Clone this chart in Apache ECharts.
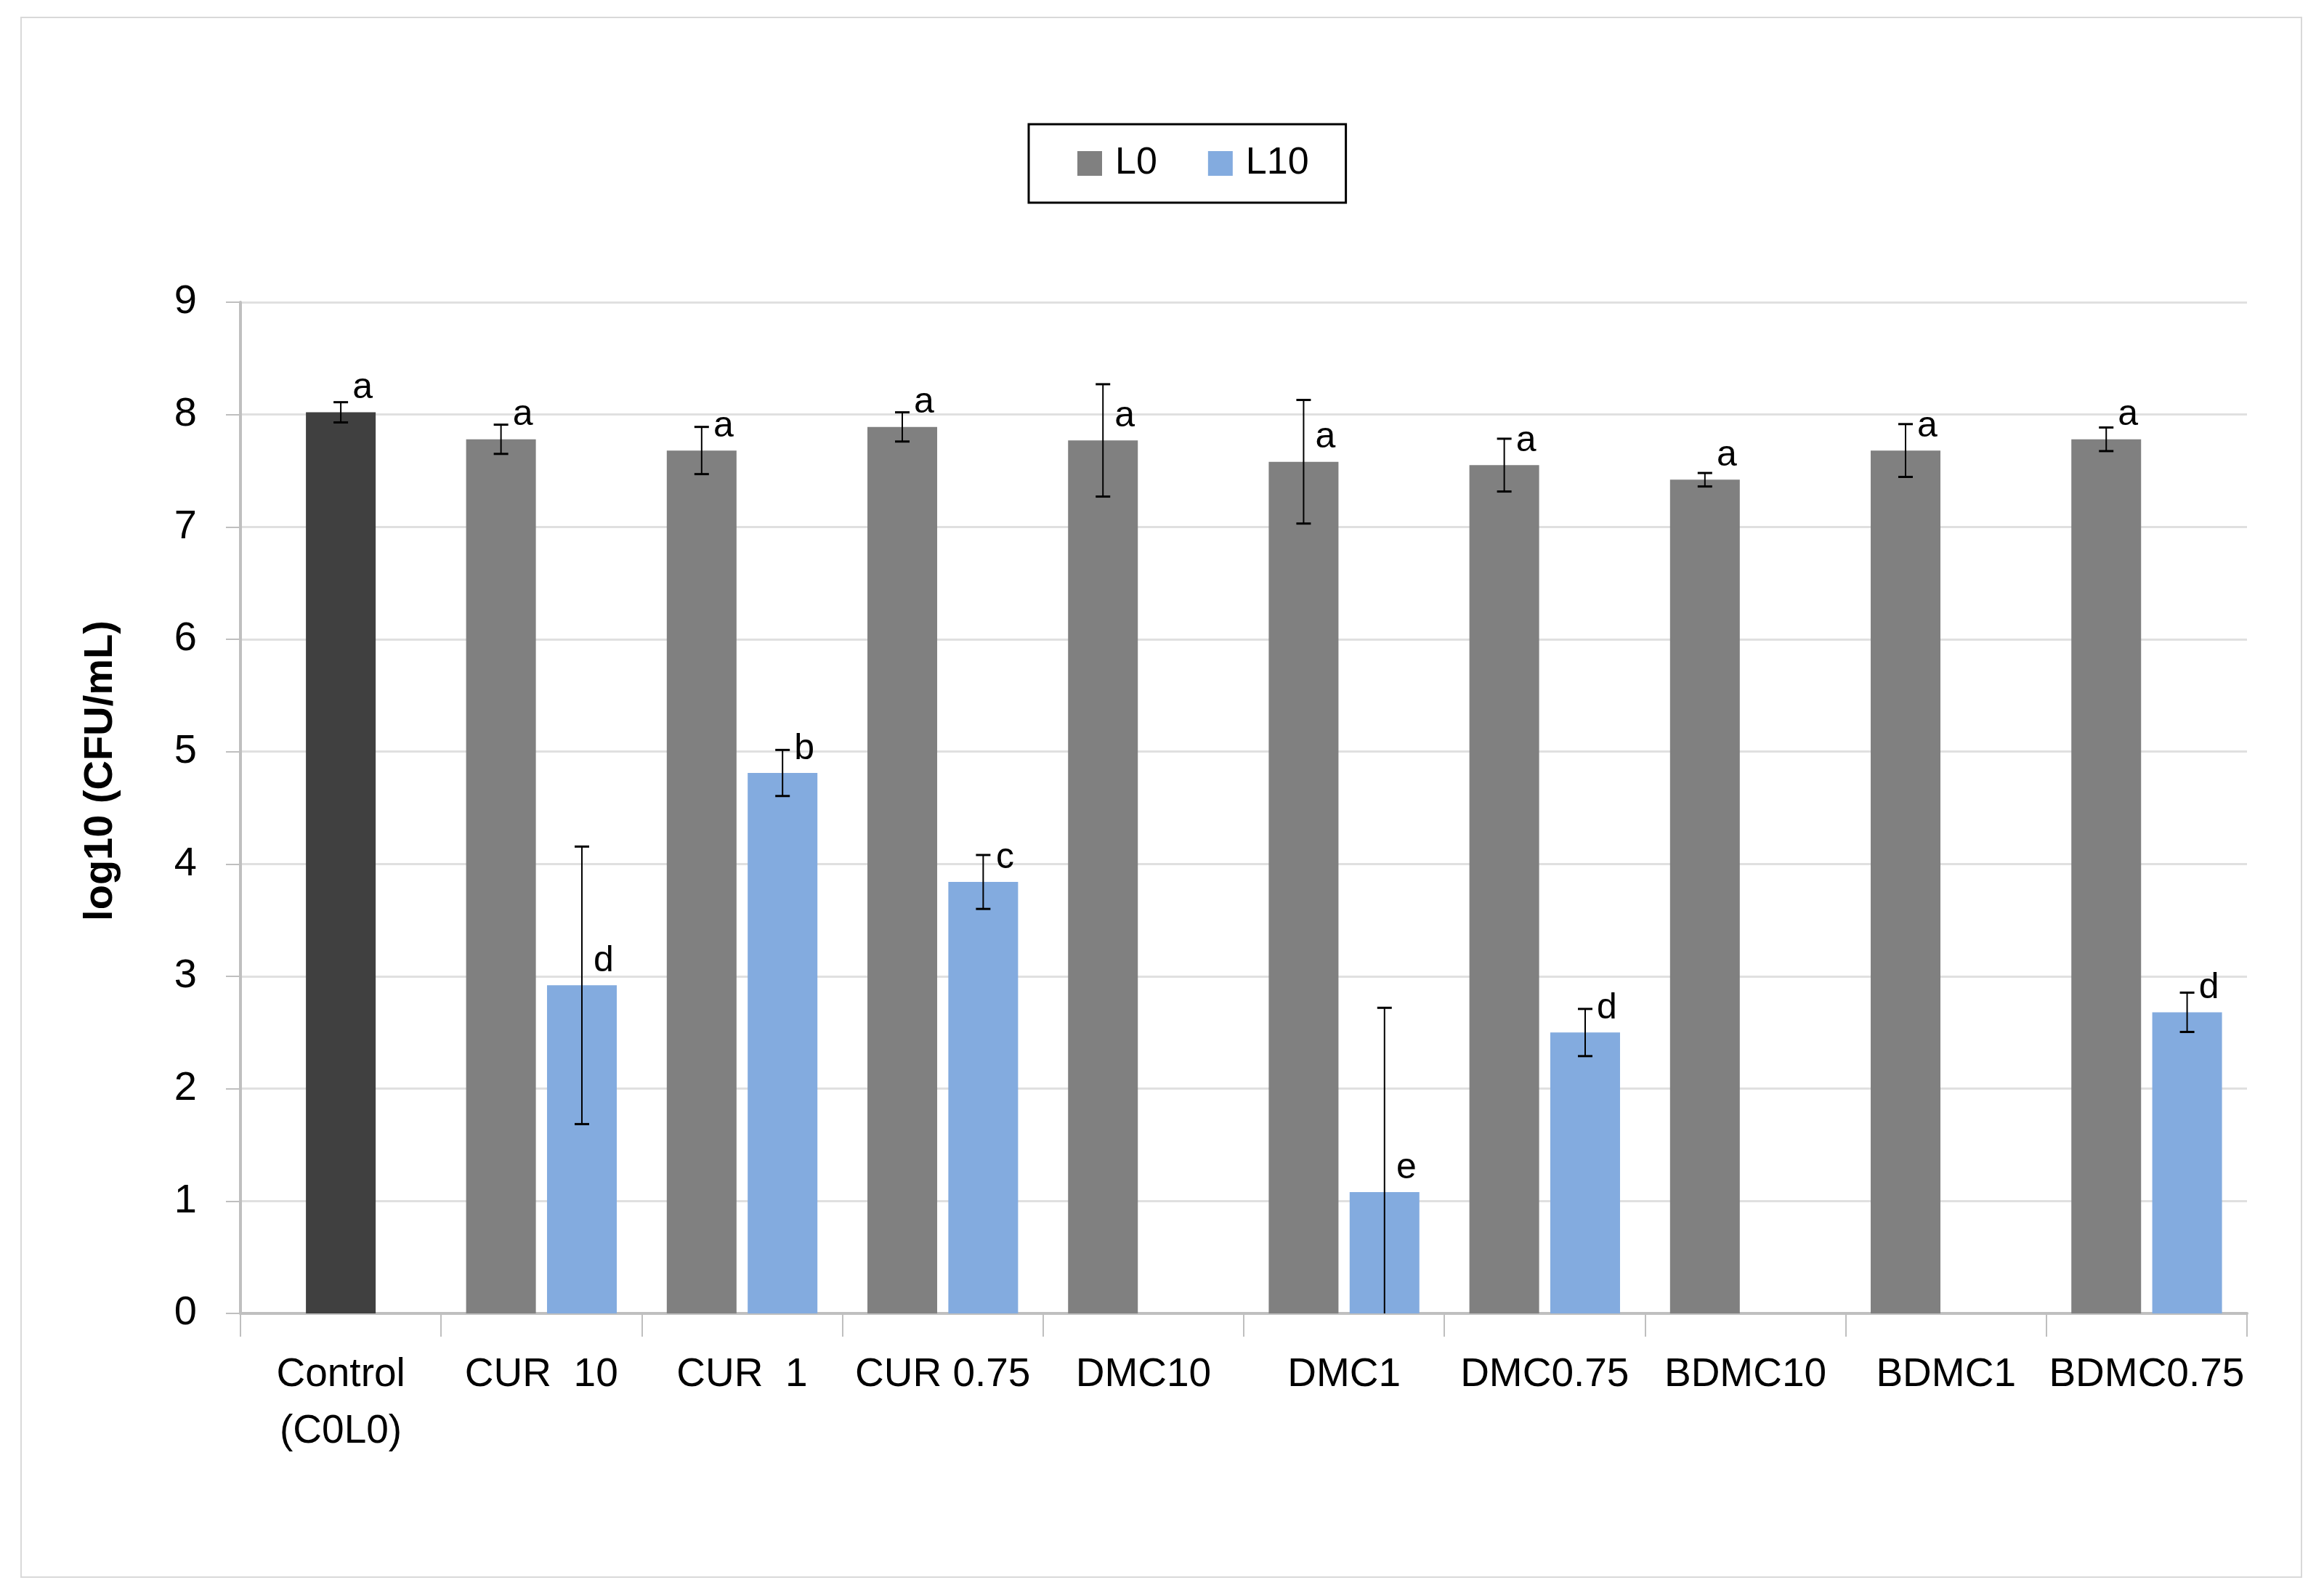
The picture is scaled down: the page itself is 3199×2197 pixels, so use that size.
<!DOCTYPE html>
<html>
<head>
<meta charset="utf-8">
<script src="https://cdn.jsdelivr.net/npm/echarts@6/dist/echarts.min.js"></script>
<style>
html,body{margin:0;padding:0;background:#fff;}
#chart{width:3199px;height:2197px;}
</style>
</head>
<body>
<div id="chart"></div>
<script>
// ---- data ----
var categories = ['Control\n(C0L0)', 'CUR  10', 'CUR  1', 'CUR 0.75', 'DMC10', 'DMC1', 'DMC0.75', 'BDMC10', 'BDMC1', 'BDMC0.75'];
var yTicks = [0, 1, 2, 3, 4, 5, 6, 7, 8, 9];
var controlValues = [8.02, null, null, null, null, null, null, null, null, null];
var controlErrors = [0.09, null, null, null, null, null, null, null, null, null];
var controlLetters = ['a', '', '', '', '', '', '', '', '', ''];
var l0Values = [null, 7.78, 7.68, 7.89, 7.77, 7.58, 7.55, 7.42, 7.68, 7.78];
var l0Errors = [null, 0.13, 0.21, 0.13, 0.50, 0.55, 0.235, 0.06, 0.235, 0.105];
var l0Letters = ['', 'a', 'a', 'a', 'a', 'a', 'a', 'a', 'a', 'a'];
var l10Values = [null, 2.92, 4.81, 3.84, null, 1.08, 2.50, null, null, 2.68];
var l10Errors = [null, 1.235, 0.205, 0.24, null, 1.64, 0.21, null, null, 0.175];
var l10Letters = ['', 'd', 'b', 'c', '', 'e', 'd', '', '', 'd'];

var SANS = "'Liberation Sans', Arial, sans-serif";
var BAR_W = 96;
var BAR_GAP = 0.16;
var SHIFT = (BAR_W + BAR_W * BAR_GAP) / 2;

function toData(vals) {
  return vals.map(function (v) { return v == null ? '-' : v; });
}
function errData(vals, errs, shift) {
  var out = [];
  for (var i = 0; i < vals.length; i++) {
    if (vals[i] != null && errs[i] != null) out.push([i, vals[i], errs[i], shift]);
  }
  return out;
}
var errorItems = errData(controlValues, controlErrors, 0)
  .concat(errData(l0Values, l0Errors, -1))
  .concat(errData(l10Values, l10Errors, 1));

function labelFor(letters) {
  return {
    show: true,
    position: 'top',
    distance: 8,
    offset: [30, 0],
    color: '#000',
    fontFamily: SANS,
    fontSize: 50,
    formatter: function (p) { return letters[p.dataIndex] || ''; }
  };
}

var chart = echarts.init(document.getElementById('chart'));
chart.setOption({
  animation: false,
  backgroundColor: '#ffffff',
  graphic: [
    {
      type: 'rect', silent: true, z: -10,
      shape: { x: 29, y: 24, width: 3139, height: 2147 },
      style: { fill: 'none', stroke: '#d9d9d9', lineWidth: 2 }
    },
    {
      type: 'text', silent: true,
      x: 139, y: 1061, rotation: Math.PI / 2,
      style: {
        text: 'log10 (CFU/mL)', fill: '#000',
        fontFamily: SANS, fontSize: 56, fontWeight: 'bold',
        align: 'center', verticalAlign: 'middle'
      }
    }
  ],
  legend: {
    left: 1416, top: 171,
    orient: 'horizontal',
    data: ['L0', 'L10'],
    icon: 'rect',
    itemWidth: 34, itemHeight: 34,
    itemGap: 70,
    padding: [28, 51, 28, 67],
    borderColor: '#000', borderWidth: 3,
    textStyle: { fontFamily: SANS, fontSize: 52, color: '#000', lineHeight: 40, padding: [0, 0, 0, 13] }
  },
  grid: { left: 331, right: 106, top: 416, bottom: 389, containLabel: false },
  xAxis: [
    {
      type: 'category', data: categories, boundaryGap: true,
      axisLine: { show: true, lineStyle: { color: '#bfbfbf', width: 4 } },
      axisTick: { show: true, alignWithLabel: false, interval: 0, length: 32, lineStyle: { color: '#bfbfbf', width: 2 } },
      axisLabel: { interval: 0, margin: 46, color: '#000', fontFamily: SANS, fontSize: 55, lineHeight: 78 },
      splitLine: { show: false }
    },
    {
      type: 'category', data: categories, show: false, boundaryGap: true
    }
  ],
  yAxis: {
    type: 'value', min: 0, max: 9, interval: 1,
    axisLine: { show: true, lineStyle: { color: '#bfbfbf', width: 4 } },
    axisTick: { show: true, length: 20, lineStyle: { color: '#bfbfbf', width: 2 } },
    axisLabel: {
      margin: 60, color: '#000', fontFamily: SANS, fontSize: 56,
      formatter: function (v) { return yTicks.indexOf(v) >= 0 ? String(v) : ''; }
    },
    splitLine: { show: true, lineStyle: { color: '#e0e0e0', width: 3 } }
  },
  series: [
    {
      name: 'Control', type: 'bar', xAxisIndex: 1, yAxisIndex: 0,
      data: toData(controlValues), barWidth: BAR_W,
      itemStyle: { color: '#404040' },
      label: labelFor(controlLetters), z: 2
    },
    {
      name: 'L0', type: 'bar', xAxisIndex: 0, yAxisIndex: 0,
      data: toData(l0Values), barWidth: BAR_W, barGap: (BAR_GAP * 100) + '%',
      itemStyle: { color: '#808080' },
      label: labelFor(l0Letters), z: 2
    },
    {
      name: 'L10', type: 'bar', xAxisIndex: 0, yAxisIndex: 0,
      data: toData(l10Values), barWidth: BAR_W, barGap: (BAR_GAP * 100) + '%',
      itemStyle: { color: '#83abdf' },
      label: labelFor(l10Letters), z: 2
    },
    {
      name: 'errors', type: 'custom', xAxisIndex: 0, yAxisIndex: 0, z: 5,
      silent: true,
      data: errorItems,
      encode: { x: 0, y: 1 },
      renderItem: function (params, api) {
        var ci = api.value(0), v = api.value(1), e = api.value(2), s = api.value(3);
        var x = api.coord([ci, 0])[0] + s * SHIFT;
        var hi = v + e, lo = Math.max(0, v - e);
        var yHi = api.coord([ci, hi])[1];
        var yLo = api.coord([ci, lo])[1];
        var cap = 10;
        var children = [
          { type: 'line', shape: { x1: x, y1: yHi, x2: x, y2: yLo }, style: { stroke: '#000', lineWidth: 2 } },
          { type: 'line', shape: { x1: x - cap, y1: yHi, x2: x + cap, y2: yHi }, style: { stroke: '#000', lineWidth: 3 } }
        ];
        if (v - e > 0) {
          children.push({ type: 'line', shape: { x1: x - cap, y1: yLo, x2: x + cap, y2: yLo }, style: { stroke: '#000', lineWidth: 3 } });
        }
        return { type: 'group', children: children };
      }
    }
  ]
});
</script>
</body>
</html>
